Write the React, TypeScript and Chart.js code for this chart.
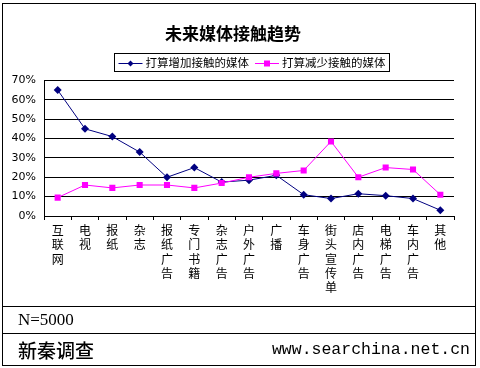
import React, { useEffect, useRef } from 'react';
import { Chart, registerables } from 'chart.js';

Chart.register(...registerables);

const chartTitle = '未来媒体接触趋势';
const categories = ['互联网', '电视', '报纸', '杂志', '报纸广告', '专门书籍', '杂志广告', '户外广告', '广播', '车身广告', '街头宣传单', '店内广告', '电梯广告', '车内广告', '其他'];
const increaseLabel = '打算增加接触的媒体';
const decreaseLabel = '打算减少接触的媒体';
const increaseValues = [65, 45, 41, 33, 20, 25, 17.5, 18.5, 21, 11, 9, 11.5, 10.5, 9, 3];
const decreaseValues = [9.5, 16, 14.5, 16, 16, 14.5, 17, 20, 22, 23.5, 38.5, 20, 25, 24, 11];
const yMin = 0;
const yMax = 70;
const yStep = 10;
const sampleNote = 'N=5000';
const sourceName = '新秦调查';
const sourceUrl = 'www.searchina.net.cn';

const CJK = '"Noto Sans CJK SC", "Noto Sans", sans-serif';
const NAVY = '#000080';
const MAGENTA = '#FF00FF';

const boxedLegend = {
  id: 'boxedLegend',
  afterDraw(chart: any) {
    const ctx = chart.ctx as CanvasRenderingContext2D;
    const ds = chart.data.datasets as any[];
    const area = chart.chartArea;
    ctx.save();
    ctx.font = `11.5px ${CJK}`;
    const sym = 24, gapText = 3, itemGap = 6, pad = 4;
    const widths = ds.map((d) => sym + gapText + ctx.measureText(d.label).width);
    const inner = widths.reduce((a, b) => a + b, 0) + itemGap * (ds.length - 1);
    const total = inner + pad * 2;
    const cx = (area.left + area.right) / 2 + 2;
    const boxLeft = Math.round(cx - total / 2) + 0.5;
    const boxTop = Math.round(area.top - 27) + 0.5;
    const boxH = 18;
    ctx.strokeStyle = '#000';
    ctx.lineWidth = 1;
    ctx.strokeRect(boxLeft, boxTop, Math.round(total), boxH);
    let x = boxLeft + pad;
    const cy = boxTop + boxH / 2;
    ds.forEach((d, i) => {
      ctx.strokeStyle = d.borderColor;
      ctx.fillStyle = d.backgroundColor;
      ctx.lineWidth = 1;
      ctx.beginPath();
      ctx.moveTo(x, Math.round(cy) + 0.5);
      ctx.lineTo(x + sym, Math.round(cy) + 0.5);
      ctx.stroke();
      const mx = x + sym / 2;
      const my = Math.round(cy) + 0.5;
      if (d.pointStyle === 'rectRot') {
        ctx.beginPath();
        ctx.moveTo(mx, my - 3);
        ctx.lineTo(mx + 3, my);
        ctx.lineTo(mx, my + 3);
        ctx.lineTo(mx - 3, my);
        ctx.closePath();
        ctx.fill();
      } else {
        ctx.fillRect(mx - 3, my - 3, 6, 6);
      }
      ctx.fillStyle = '#000';
      ctx.textBaseline = 'middle';
      ctx.textAlign = 'left';
      ctx.fillText(d.label, x + sym + gapText, cy + 0.5);
      x += widths[i] + itemGap;
    });
    ctx.restore();
  },
};

export default function App() {
  const ref = useRef<HTMLCanvasElement>(null);

  useEffect(() => {
    const canvas = ref.current;
    if (!canvas) return;
    const chart = new Chart(canvas, {
      type: 'line',
      data: {
        labels: categories.map((c) => Array.from(c)),
        datasets: [
          {
            label: increaseLabel,
            data: increaseValues,
            borderColor: NAVY,
            backgroundColor: NAVY,
            borderWidth: 1,
            pointStyle: 'rectRot',
            pointRadius: 4,
            pointBorderWidth: 0,
            tension: 0,
            order: 1,
          },
          {
            label: decreaseLabel,
            data: decreaseValues,
            borderColor: MAGENTA,
            backgroundColor: MAGENTA,
            borderWidth: 1,
            pointStyle: 'rect',
            pointRadius: 4.3,
            pointBorderWidth: 0,
            tension: 0,
            order: 0,
          },
        ],
      },
      options: {
        responsive: false,
        animation: false,
        devicePixelRatio: 1,
        layout: { padding: { left: 12, right: 26, top: 0, bottom: 0 } },
        plugins: {
          legend: { display: false },
          tooltip: { enabled: false },
          title: {
            display: true,
            text: chartTitle,
            color: '#000',
            font: { family: CJK, size: 17, weight: 'bold', lineHeight: 1.2 },
            padding: { top: 23, bottom: 37 },
          },
        },
        scales: {
          x: {
            type: 'category',
            offset: true,
            grid: { offset: true, drawOnChartArea: false, drawTicks: true, tickLength: 4, color: '#000', lineWidth: 1 },
            border: { display: true, color: '#000', width: 1 },
            ticks: {
              color: '#000',
              font: { family: CJK, size: 12, lineHeight: 1.2 },
              maxRotation: 0,
              minRotation: 0,
              autoSkip: false,
              padding: 3,
            },
            afterFit: (s: any) => { s.height = 90; },
          },
          y: {
            min: yMin,
            max: yMax,
            ticks: {
              stepSize: yStep,
              color: '#000',
              font: { family: '"DejaVu Sans", sans-serif', size: 11 },
              padding: 8,
              callback: (v: any) => `${v}%`,
            },
            grid: { color: '#000', lineWidth: 1, drawTicks: false },
            border: { display: true, color: '#000', width: 1 },
            afterFit: (s: any) => { s.width = 32; },
          },
        },
      },
      plugins: [boxedLegend],
    });
    return () => chart.destroy();
  }, []);

  return (
    <div style={{ position: 'absolute', left: 0, top: 0, width: 480, height: 368, background: '#fff', overflow: 'hidden' }}>
      <canvas ref={ref} width={480} height={306} style={{ position: 'absolute', left: 0, top: 0, width: 480, height: 306 }} />
      <div style={{ position: 'absolute', left: 2, top: 3, width: 474, height: 363, border: '1px solid #000', boxSizing: 'border-box', pointerEvents: 'none' }} />
      <div style={{ position: 'absolute', left: 2, top: 306, width: 474, height: 1, background: '#000' }} />
      <div style={{ position: 'absolute', left: 2, top: 333, width: 474, height: 1, background: '#000' }} />
      <div style={{ position: 'absolute', left: 18, top: 307, height: 26, lineHeight: '26px', fontFamily: '"Liberation Serif", serif', fontSize: 17, color: '#000', whiteSpace: 'nowrap' }}>{sampleNote}</div>
      <div style={{ position: 'absolute', left: 18, top: 334, height: 31, lineHeight: '31px', fontFamily: CJK, fontSize: 19, fontWeight: 500, color: '#000', whiteSpace: 'nowrap' }}>{sourceName}</div>
      <div style={{ position: 'absolute', right: 10, top: 334, height: 31, lineHeight: '31px', fontFamily: '"Liberation Mono", monospace', fontSize: 16.5, color: '#000', whiteSpace: 'nowrap' }}>{sourceUrl}</div>
    </div>
  );
}
